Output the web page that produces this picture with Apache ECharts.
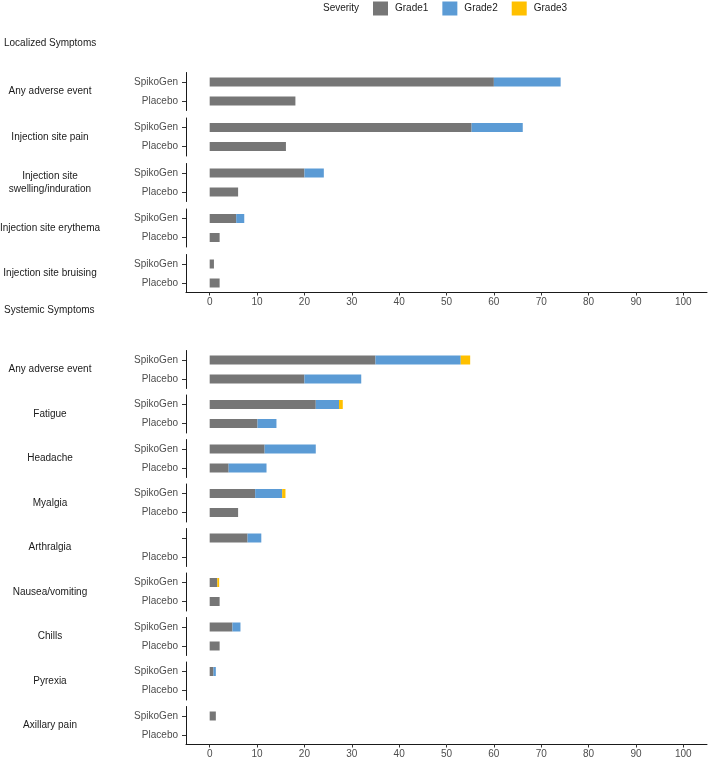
<!DOCTYPE html>
<html>
<head>
<meta charset="utf-8">
<script src="https://cdn.jsdelivr.net/npm/echarts@6/dist/echarts.min.js"></script>
<style>
html,body{margin:0;padding:0;background:#fff;}
#chart{width:709px;height:762px;}
</style>
</head>
<body>
<div id="chart"></div>
<script>
// ---- data ----
var gradeNames = ['Grade1', 'Grade2', 'Grade3'];
var gradeColors = ['#767676', '#5b9bd5', '#ffc000'];
var xTicks = [0, 10, 20, 30, 40, 50, 60, 70, 80, 90, 100];

var localGroups = ['Any adverse event', 'Injection site pain', 'Injection site\nswelling/induration', 'Injection site erythema', 'Injection site bruising'];
var localSpikoLabels = ['SpikoGen', 'SpikoGen', 'SpikoGen', 'SpikoGen', 'SpikoGen'];
var localSpikoG1 = [60, 55.3, 20, 5.6, 0.9];
var localSpikoG2 = [14.1, 10.8, 4.1, 1.7, 0];
var localSpikoG3 = [0, 0, 0, 0, 0];
var localPlaceboG1 = [18.1, 16.1, 6, 2.1, 2.1];
var localPlaceboG2 = [0, 0, 0, 0, 0];
var localPlaceboG3 = [0, 0, 0, 0, 0];

var sysGroups = ['Any adverse event', 'Fatigue', 'Headache', 'Myalgia', 'Arthralgia', 'Nausea/vomiting', 'Chills', 'Pyrexia', 'Axillary pain'];
var sysSpikoLabels = ['SpikoGen', 'SpikoGen', 'SpikoGen', 'SpikoGen', '', 'SpikoGen', 'SpikoGen', 'SpikoGen', 'SpikoGen'];
var sysSpikoG1 = [35, 22.4, 11.6, 9.6, 8, 1.6, 4.8, 0.8, 1.3];
var sysSpikoG2 = [18, 4.9, 10.8, 5.7, 2.9, 0, 1.7, 0.5, 0];
var sysSpikoG3 = [2, 0.8, 0, 0.7, 0, 0.4, 0, 0, 0];
var sysPlaceboG1 = [20, 10.1, 4, 6, 0, 2.1, 2.1, 0, 0];
var sysPlaceboG2 = [12, 4, 8, 0, 0, 0, 0, 0, 0];
var sysPlaceboG3 = [0, 0, 0, 0, 0, 0, 0, 0, 0];

// ---- build ----
var FONT = 'Liberation Sans, Arial, Helvetica, sans-serif';
var grids = [], xAxes = [], yAxes = [], series = [], graphics = [];

function addPanel(title, titleY, groups, spikoLabels, spiko, placebo, top0, pitch) {
  graphics.push({type: 'text', x: 4, y: titleY,
    style: {text: title, font: '10px ' + FONT, fill: '#1a1a1a', verticalAlign: 'middle'}});
  groups.forEach(function (g, i) {
    var idx = grids.length;
    var top = top0 + i * pitch;
    var last = (i === groups.length - 1);
    grids.push({left: 186, width: 521, top: top, height: 38});
    xAxes.push({
      gridIndex: idx, type: 'value', min: -5, max: 105,
      show: last,
      splitLine: {show: false},
      axisLine: {show: true, onZero: false, lineStyle: {color: '#1a1a1a', width: 1}},
      axisTick: {show: true, length: 3, customValues: xTicks, lineStyle: {color: '#333'}},
      axisLabel: {show: true, customValues: xTicks, margin: 5, fontSize: 10, color: '#4d4d4d', fontFamily: FONT}
    });
    yAxes.push({
      gridIndex: idx, type: 'category', inverse: true,
      data: [spikoLabels[i], 'Placebo'],
      axisLine: {show: true, onZero: false, lineStyle: {color: '#1a1a1a', width: 1}},
      axisTick: {show: true, length: 4, alignWithLabel: true, lineStyle: {color: '#333'}},
      axisLabel: {margin: 8, fontSize: 10, color: '#4d4d4d', fontFamily: FONT}
    });
    for (var k = 0; k < 3; k++) {
      series.push({
        type: 'bar', name: gradeNames[k], xAxisIndex: idx, yAxisIndex: idx,
        stack: 's' + idx, barWidth: 9,
        itemStyle: {color: gradeColors[k]},
        data: [spiko[k][i], placebo[k][i]]
      });
    }
    graphics.push({type: 'text', x: 50, y: top + 19,
      style: {text: g, font: '10px ' + FONT, fill: '#1a1a1a', align: 'center', verticalAlign: 'middle', lineHeight: 13}});
  });
}

addPanel('Localized Symptoms', 43, localGroups, localSpikoLabels,
  [localSpikoG1, localSpikoG2, localSpikoG3], [localPlaceboG1, localPlaceboG2, localPlaceboG3], 72.5, 45.5);
addPanel('Systemic Symptoms', 310, sysGroups, sysSpikoLabels,
  [sysSpikoG1, sysSpikoG2, sysSpikoG3], [sysPlaceboG1, sysPlaceboG2, sysPlaceboG3], 350.5, 44.5);

graphics.push({type: 'text', x: 323, y: 8.5,
  style: {text: 'Severity', font: '10px ' + FONT, fill: '#1a1a1a', verticalAlign: 'middle'}});

var chart = echarts.init(document.getElementById('chart'), null, {renderer: 'canvas'});
chart.setOption({
  animation: false,
  backgroundColor: '#fff',
  legend: {
    left: 373, top: 1.5, padding: 0, itemWidth: 15, itemHeight: 14, itemGap: 14,
    icon: 'rect', data: gradeNames, selectedMode: false,
    textStyle: {fontSize: 10, color: '#1a1a1a', fontFamily: FONT, padding: [0, 0, 0, 2]}
  },
  grid: grids,
  xAxis: xAxes,
  yAxis: yAxes,
  series: series,
  graphic: graphics
});
</script>
</body>
</html>
